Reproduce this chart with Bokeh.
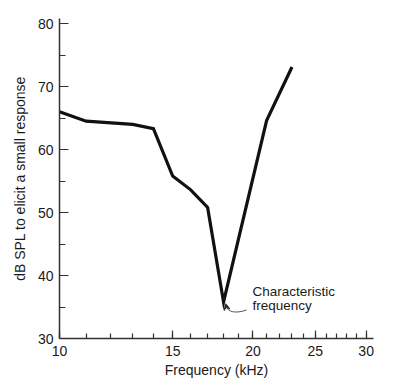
import math
from bokeh.plotting import figure
from bokeh.models import Range1d, FixedTicker, Arrow, VeeHead
from bokeh.core.properties import value
from bokeh.embed import file_html
from bokeh.resources import INLINE

# ---- data ----
freq_khz = [10, 11, 13, 14, 15, 16, 17, 18, 21, 23]
db_spl = [66.0, 64.5, 64.0, 63.3, 55.8, 53.6, 50.8, 35.8, 64.6, 73.1]
x_major_ticks = [10, 15, 20, 25, 30]
x_minor_ticks = list(range(10, 31))
y_major_ticks = [30, 40, 50, 60, 70, 80]
y_minor_ticks = [35, 45, 55, 65, 75]
annotation_lines = ["Characteristic", "frequency"]
x_title = "Frequency (kHz)"
y_title = "dB SPL to elicit a small response"

FONT = "Liberation Sans"
W, H = 386, 382
BL, BR, BT, BB = 59, 13, 18, 44
X0, X1 = 10, 30.8
Y0, Y1 = 30, 80.8

p = figure(width=W, height=H, x_axis_type="log",
           x_range=Range1d(X0, X1), y_range=Range1d(Y0, Y1),
           output_backend="svg", toolbar_location=None,
           min_border_left=BL, min_border_right=BR,
           min_border_top=BT, min_border_bottom=BB)
p.outline_line_color = None
p.grid.visible = False
p.background_fill_color = "white"
p.border_fill_color = "white"

# curve
p.line(freq_khz, db_spl, line_color="#111111", line_width=3.2, line_join="miter")

# axes
for ax in (p.xaxis[0], p.yaxis[0]):
    ax.axis_line_color = "#333333"
    ax.axis_line_width = 1.5
    ax.major_tick_line_color = "#333333"
    ax.minor_tick_line_color = "#333333"
    ax.major_tick_line_width = 1.2
    ax.minor_tick_line_width = 1.2
    ax.major_tick_out = 0
    ax.minor_tick_out = 0
    ax.major_label_text_font = FONT
    ax.major_label_text_font_size = "14px"
    ax.major_label_text_color = "#1a1a1a"
    ax.axis_label_text_font = FONT
    ax.axis_label_text_font_size = "14px"
    ax.axis_label_text_font_style = "normal"
    ax.axis_label_text_color = "#1a1a1a"

p.xaxis.ticker = FixedTicker(ticks=x_major_ticks, minor_ticks=x_minor_ticks)
p.xaxis.major_label_overrides = {t: str(t) for t in x_major_ticks}
p.xaxis.major_tick_in = 8
p.xaxis.minor_tick_in = 5
p.xaxis.major_label_standoff = 7
p.xaxis.axis_label = x_title
p.xaxis.axis_label_standoff = 3

p.yaxis.ticker = FixedTicker(ticks=y_major_ticks, minor_ticks=y_minor_ticks)
p.yaxis.major_tick_in = 9
p.yaxis.minor_tick_in = 6
p.yaxis.major_label_standoff = 6
p.yaxis.axis_label = y_title
p.yaxis.axis_label_standoff = 7

# annotation placed relative to the minimum of the curve
frame_w = W - BL - BR
frame_h = H - BT - BB
ppd = frame_w / math.log10(X1 / X0)
ppu = frame_h / (Y1 - Y0)
imin = db_spl.index(min(db_spl))
f0, v0 = freq_khz[imin], db_spl[imin]

def off(dx, dy):
    return f0 * 10 ** (dx / ppd), v0 - dy / ppu

for k, line in enumerate(annotation_lines):
    tx, ty = off(29, -18 + 14 * k)
    p.text(x=[tx], y=[ty], text=[line], text_font=value(FONT),
           text_font_size="13.5px", text_baseline="top", text_align="left",
           text_color="#1a1a1a")

sx, sy = off(23, 8)
c0x, c0y = off(12, 12)
c1x, c1y = off(4, 10)
ex, ey = off(2.5, 4)
p.bezier(x0=[sx], y0=[sy], x1=[ex], y1=[ey], cx0=[c0x], cy0=[c0y],
         cx1=[c1x], cy1=[c1y], line_color="#555555", line_width=1)
ax_, ay_ = off(2.0, 2.0)
p.add_layout(Arrow(end=VeeHead(size=6, line_color="#333333", line_width=1.2),
                   x_start=ex, y_start=ey, x_end=ax_, y_end=ay_,
                   line_color="#555555", line_width=1))

open("out.html", "w").write(file_html(p, INLINE))
